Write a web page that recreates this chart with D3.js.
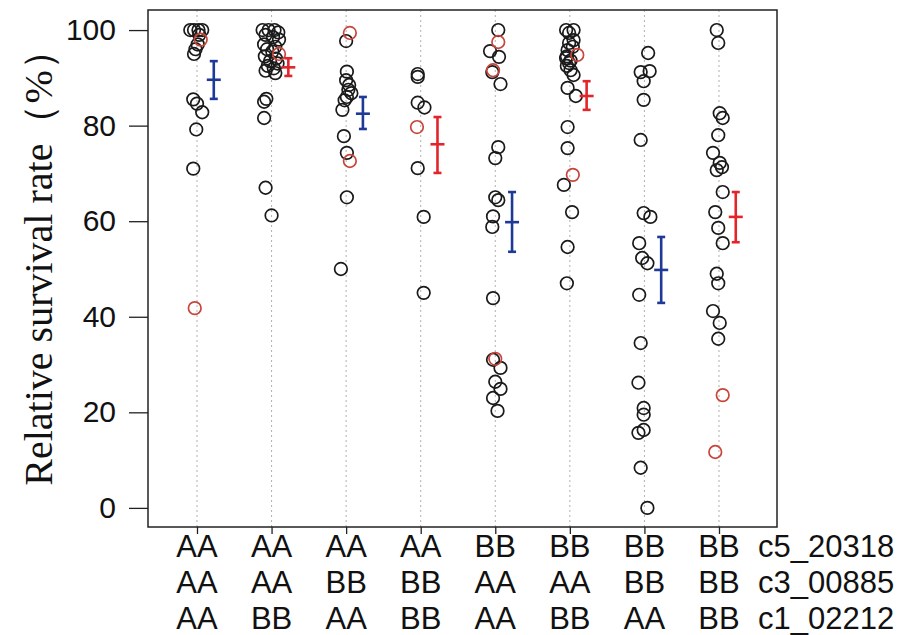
<!DOCTYPE html>
<html>
<head>
<meta charset="utf-8">
<script src="https://cdn.jsdelivr.net/npm/d3@7"></script>
<style>
  body { margin: 0; background: #fff; }
  svg { display: block; }
</style>
</head>
<body>
<div id="chart"></div>
<script>
// genotype rows under each group
const c5_20318 = ["AA", "AA", "AA", "AA", "BB", "BB", "BB", "BB"];
const c3_00885 = ["AA", "AA", "BB", "BB", "AA", "AA", "BB", "BB"];
const c1_02212 = ["AA", "BB", "AA", "BB", "AA", "BB", "AA", "BB"];
const markerNames = ["c5_20318", "c3_00885", "c1_02212"];
const yTicks = [0, 20, 40, 60, 80, 100];

// each point: [survival %, jitter (category units)]
const blackPoints = [
  [[100, -0.09], [100, -0.04], [100, 0.02], [100, 0.07], [99, 0.03], [97, 0.01], [96, -0.02], [95, -0.04],
   [85.5, -0.05], [84.6, 0], [82.8, 0.07], [79.2, -0.01], [71, -0.05]],
  [[100, -0.12], [100, -0.04], [100, 0.04], [99.5, 0.09], [99, -0.08], [98.5, 0.02], [98, 0.1], [97, -0.1],
   [96.5, 0.05], [96, -0.06], [95.5, 0.01], [94.5, -0.09], [94, 0.06], [93.5, -0.02], [93, 0.08], [92.5, -0.05],
   [92, 0.03], [91.5, -0.08], [91, 0.05], [85.6, -0.07], [85, -0.1], [81.6, -0.1], [67, -0.08], [61.2, 0]],
  [[97.7, 0], [91.3, 0.01], [89.5, 0], [88.5, 0.04], [87.5, 0.03], [86.8, 0.07], [86, 0.01], [85.3, -0.02],
   [83.3, -0.05], [77.8, -0.03], [74.3, 0.01], [65, 0.01], [50, -0.07]],
  [[90.8, -0.04], [90.2, -0.04], [84.8, -0.04], [83.8, 0.05], [71.1, -0.04], [60.9, 0.04], [45, 0.04]],
  [[100, 0.04], [95.6, -0.07], [94.4, 0.05], [91.2, -0.04], [88.7, 0.07], [75.5, 0.04], [73.2, 0], [65, 0],
   [64.4, 0.04], [61, -0.03], [58.8, -0.04], [43.9, -0.03], [31, -0.03], [29.3, 0.07], [26.4, 0], [24.9, 0.07],
   [23, -0.03], [20.3, 0.03]],
  [[100, -0.05], [100, 0.05], [99.4, -0.01], [97.9, 0.05], [97.3, -0.01], [96.5, 0.04], [95.8, -0.03],
   [94.5, -0.04], [94.1, -0.05], [93.6, 0.01], [93.1, -0.01], [92.5, -0.04], [91.6, 0.01], [90.6, 0.05],
   [87.9, -0.03], [86.2, 0.08], [79.7, -0.03], [75.3, -0.03], [67.6, -0.08], [61.9, 0.03], [54.6, -0.03], [47, -0.04]],
  [[95.2, 0.05], [91.2, -0.05], [91.4, 0.07], [89.3, -0.01], [85.4, -0.01], [77, -0.05], [61.7, -0.01],
   [60.9, 0.08], [55.4, -0.07], [52.3, -0.03], [51.2, 0.04], [44.6, -0.07], [34.5, -0.05], [26.2, -0.08],
   [20.9, -0.01], [19.5, -0.01], [16.3, -0.01], [15.7, -0.08], [8.4, -0.05], [0, 0.04]],
  [[100, -0.03], [97.3, -0.01], [82.6, 0.01], [81.6, 0.05], [78, -0.01], [74.3, -0.08], [72.2, 0.01],
   [71.3, 0.04], [70.7, -0.03], [66.1, 0.05], [61.9, -0.05], [58.6, -0.01], [55.4, 0.05], [49, -0.03],
   [47, -0.01], [41.2, -0.08], [38.7, 0.01], [35.4, -0.01]]
];
const redPoints = [
  [[98, 0.05], [41.8, -0.03]],
  [[95, 0.1]],
  [[99.4, 0.05], [72.6, 0.05]],
  [[79.7, -0.05]],
  [[97.5, 0.04], [91.6, -0.03], [31.2, 0]],
  [[94.8, 0.1], [69.7, 0.04]],
  [],
  [[23.6, 0.05], [11.7, -0.05]]
];

// mean and interval per group
const means = [89.6, 92.2, 82.5, 76.1, 59.8, 86.2, 49.8, 60.9];
const lower = [85.6, 90.4, 79.3, 70.1, 53.6, 83.3, 42.9, 55.6];
const upper = [93.5, 94.1, 86.0, 81.8, 66.1, 89.3, 56.7, 66.1];
const barColor = ["blue", "red", "blue", "red", "blue", "red", "blue", "red"];

const W = 901, H = 635;
const box = {left: 148, right: 777, top: 10, bottom: 527};

const svg = d3.select("#chart").append("svg")
  .attr("width", W)
  .attr("height", H);

const x = d3.scaleLinear().domain([0.343, 8.778]).range([box.left, box.right]);
const y = d3.scaleLinear().domain([-4, 104.2]).range([box.bottom, box.top]);
const groups = d3.range(1, 9);

// dotted guide lines
svg.append("g").selectAll("line")
  .data(groups)
  .enter().append("line")
  .attr("x1", d => x(d)).attr("x2", d => x(d))
  .attr("y1", box.top).attr("y2", box.bottom)
  .attr("stroke", "#b0b0b0")
  .attr("stroke-width", 1)
  .attr("stroke-dasharray", "2,3");

// y axis
const yAxis = svg.append("g")
  .attr("transform", "translate(" + box.left + ",0)")
  .call(d3.axisLeft(y).tickValues(yTicks).tickSize(19).tickPadding(13));
yAxis.select(".domain").remove();
yAxis.selectAll("line").attr("stroke", "#222").attr("stroke-width", 1.3);
yAxis.selectAll("text")
  .attr("font-family", "'Liberation Sans', Arial, sans-serif")
  .attr("font-size", 30)
  .attr("fill", "#111");

// x axis ticks
const xAxis = svg.append("g")
  .attr("transform", "translate(0," + box.bottom + ")")
  .call(d3.axisBottom(x).tickValues(groups).tickSize(7).tickFormat(""));
xAxis.select(".domain").remove();
xAxis.selectAll("line").attr("stroke", "#222").attr("stroke-width", 1.3);

// genotype labels
const rows = [c5_20318, c3_00885, c1_02212];
const rowBase = [557, 593, 629];
rows.forEach((row, r) => {
  svg.append("g").selectAll("text")
    .data(row)
    .enter().append("text")
    .attr("x", (d, i) => x(i + 1))
    .attr("y", rowBase[r])
    .attr("text-anchor", "middle")
    .attr("font-family", "'Liberation Sans', Arial, sans-serif")
    .attr("font-size", 31)
    .attr("fill", "#111")
    .text(d => d);
  svg.append("text")
    .attr("x", 758)
    .attr("y", rowBase[r])
    .attr("font-family", "'Liberation Sans', Arial, sans-serif")
    .attr("font-size", 31)
    .attr("fill", "#111")
    .text(markerNames[r]);
});

// y title
svg.append("text")
  .attr("transform", "translate(52,258) rotate(-90)")
  .attr("text-anchor", "middle")
  .attr("font-family", "'Liberation Serif', 'Times New Roman', serif")
  .attr("font-size", 40)
  .attr("fill", "#111")
  .text("Relative survival rate（%）");

// points
function drawPoints(sets, color) {
  sets.forEach((pts, gi) => {
    svg.append("g").selectAll("circle")
      .data(pts)
      .enter().append("circle")
      .attr("cx", d => x(gi + 1 + d[1]))
      .attr("cy", d => y(d[0]))
      .attr("r", 6.3)
      .attr("fill", "none")
      .attr("stroke", color)
      .attr("stroke-width", 1.7);
  });
}
drawPoints(blackPoints, "#1a1a1a");
drawPoints(redPoints, "#c8453a");

// error bars
const colors = {blue: "#1f3a96", red: "#e3242b"};
const off = 0.225;
const eb = svg.append("g").selectAll("g")
  .data(groups)
  .enter().append("g")
  .attr("stroke", (d, i) => colors[barColor[i]])
  .attr("stroke-width", 2.6);
eb.append("line")
  .attr("x1", d => x(d + off)).attr("x2", d => x(d + off))
  .attr("y1", (d, i) => y(lower[i])).attr("y2", (d, i) => y(upper[i]));
eb.append("line")
  .attr("x1", d => x(d + off) - 4).attr("x2", d => x(d + off) + 4)
  .attr("y1", (d, i) => y(lower[i])).attr("y2", (d, i) => y(lower[i]));
eb.append("line")
  .attr("x1", d => x(d + off) - 4).attr("x2", d => x(d + off) + 4)
  .attr("y1", (d, i) => y(upper[i])).attr("y2", (d, i) => y(upper[i]));
eb.append("line")
  .attr("x1", d => x(d + off) - 7).attr("x2", d => x(d + off) + 7)
  .attr("y1", (d, i) => y(means[i])).attr("y2", (d, i) => y(means[i]));

// plot box
svg.append("rect")
  .attr("x", box.left).attr("y", box.top)
  .attr("width", box.right - box.left)
  .attr("height", box.bottom - box.top)
  .attr("fill", "none")
  .attr("stroke", "#222")
  .attr("stroke-width", 1.5);
</script>
</body>
</html>
